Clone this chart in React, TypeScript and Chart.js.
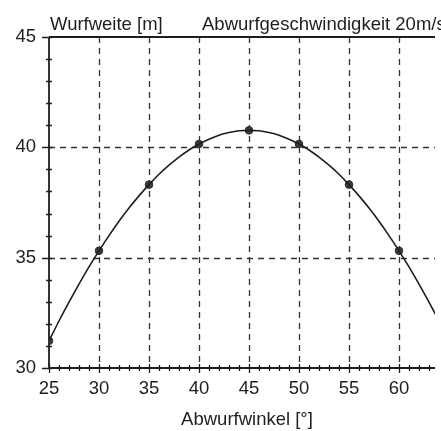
import React, { useEffect, useRef } from "react";
import { Chart, registerables } from "chart.js";

Chart.register(...registerables);

const curveAngles = [25, 26, 27, 28, 29, 30, 31, 32, 33, 34, 35, 36, 37, 38, 39, 40, 41, 42, 43, 44, 45, 46, 47, 48, 49, 50, 51, 52, 53, 54, 55, 56, 57, 58, 59, 60, 61, 62, 63, 64];
const curveRange = [31.23, 32.13, 32.98, 33.8, 34.58, 35.31, 36.0, 36.65, 37.25, 37.8, 38.31, 38.78, 39.19, 39.56, 39.88, 40.15, 40.37, 40.55, 40.67, 40.75, 40.77, 40.75, 40.67, 40.55, 40.37, 40.15, 39.88, 39.56, 39.19, 38.78, 38.31, 37.8, 37.25, 36.65, 36.0, 35.31, 34.58, 33.8, 32.98, 32.13];
const pointAngles = [25, 30, 35, 40, 45, 50, 55, 60];
const pointRange = [31.23, 35.31, 38.31, 40.15, 40.77, 40.15, 38.31, 35.31];
const xTicks = [25, 30, 35, 40, 45, 50, 55, 60];
const yTicks = [30, 35, 40, 45];
const yGridValues = [35, 40];
const xGridValues = [30, 35, 40, 45, 50, 55, 60];
const xMinorTicks = [26, 27, 28, 29, 31, 32, 33, 34, 36, 37, 38, 39, 41, 42, 43, 44, 46, 47, 48, 49, 51, 52, 53, 54, 56, 57, 58, 59, 61, 62, 63];
const yMinorTicks = [31, 32, 33, 34, 36, 37, 38, 39, 41, 42, 43, 44];
const leftTitle = "Wurfweite [m]";
const rightTitle = "Abwurfgeschwindigkeit 20m/s";
const xTitle = "Abwurfwinkel [°]";

const FONT = "'Liberation Sans', Arial, sans-serif";
const INK = "#1e1e1e";
const FS = 18.5;

const framePlugin = {
  id: "frame",
  beforeDatasetsDraw(chart: any) {
    const { ctx, chartArea } = chart;
    const xs = chart.scales.x;
    const ys = chart.scales.y;
    const { left, right, top, bottom } = chartArea;
    ctx.save();
    ctx.strokeStyle = "#333";
    ctx.lineWidth = 1.3;
    ctx.setLineDash([6, 5]);
    for (const v of xGridValues) {
      const px = Math.round(xs.getPixelForValue(v)) + 0.5;
      ctx.beginPath();
      ctx.moveTo(px, top);
      ctx.lineTo(px, bottom);
      ctx.stroke();
    }
    for (const v of yGridValues) {
      const py = Math.round(ys.getPixelForValue(v)) + 0.5;
      ctx.beginPath();
      ctx.moveTo(left, py);
      ctx.lineTo(right, py);
      ctx.stroke();
    }
    ctx.setLineDash([]);
    ctx.strokeStyle = INK;
    ctx.lineWidth = 1.8;
    ctx.beginPath();
    ctx.moveTo(left, top);
    ctx.lineTo(left, bottom);
    ctx.lineTo(right, bottom);
    ctx.moveTo(left, top);
    ctx.lineTo(right, top);
    ctx.stroke();
    ctx.lineWidth = 1.3;
    ctx.beginPath();
    for (const v of xMinorTicks) {
      const px = Math.round(xs.getPixelForValue(v)) + 0.5;
      ctx.moveTo(px, bottom - 3);
      ctx.lineTo(px, bottom + 3);
    }
    for (const v of xTicks) {
      const px = Math.round(xs.getPixelForValue(v)) + 0.5;
      ctx.moveTo(px, bottom - 4);
      ctx.lineTo(px, bottom + 5);
    }
    for (const v of yMinorTicks) {
      const py = Math.round(ys.getPixelForValue(v)) + 0.5;
      ctx.moveTo(left - 3, py);
      ctx.lineTo(left + 3, py);
    }
    for (const v of yTicks) {
      const py = Math.round(ys.getPixelForValue(v)) + 0.5;
      ctx.moveTo(left - 7, py);
      ctx.lineTo(left + 3, py);
    }
    ctx.stroke();
    ctx.restore();
  },
  afterDraw(chart: any) {
    const { ctx } = chart;
    ctx.save();
    ctx.fillStyle = INK;
    ctx.font = `${FS}px ${FONT}`;
    ctx.textBaseline = "alphabetic";
    ctx.textAlign = "left";
    ctx.fillText(leftTitle, 50, 30);
    ctx.fillText(rightTitle, 202, 30);
    ctx.textAlign = "center";
    ctx.textBaseline = "middle";
    ctx.fillText(xTitle, 247, 420);
    ctx.restore();
  },
};

export default function App() {
  const ref = useRef<HTMLCanvasElement>(null);
  useEffect(() => {
    if (!ref.current) return;
    const chart = new Chart(ref.current, {
      type: "line",
      data: {
        datasets: [
          {
            data: curveAngles.map((a, i) => ({ x: a, y: curveRange[i] })),
            borderColor: INK,
            borderWidth: 1.6,
            pointRadius: 0,
            tension: 0.3,
            fill: false,
          },
          {
            type: "scatter",
            data: pointAngles.map((a, i) => ({ x: a, y: pointRange[i] })),
            backgroundColor: "#3a3a3a",
            borderColor: "#2a2a2a",
            pointRadius: 3.8,
            borderWidth: 1,
          },
        ],
      } as any,
      options: {
        responsive: false,
        animation: false,
        layout: { padding: { top: 37, right: 6, left: 0, bottom: 0 } },
        plugins: { legend: { display: false }, tooltip: { enabled: false } },
        scales: {
          x: {
            type: "linear",
            min: 25,
            max: 63.6,
            afterBuildTicks: (s: any) => {
              s.ticks = xTicks.map((v) => ({ value: v }));
            },
            afterFit: (s: any) => {
              s.height = 63;
            },
            grid: { display: false, drawTicks: false },
            border: { display: false },
            ticks: {
              font: { family: FONT, size: FS },
              color: INK,
              padding: 10,
              maxRotation: 0,
              autoSkip: false,
            },
          },
          y: {
            type: "linear",
            min: 30,
            max: 45,
            afterBuildTicks: (s: any) => {
              s.ticks = yTicks.map((v) => ({ value: v }));
            },
            afterFit: (s: any) => {
              s.width = 49;
            },
            grid: { display: false, drawTicks: false },
            border: { display: false },
            ticks: {
              font: { family: FONT, size: FS },
              color: INK,
              padding: 13,
            },
          },
        },
      },
      plugins: [framePlugin],
    });
    return () => chart.destroy();
  }, []);
  return (
    <div style={{ position: "fixed", left: 0, top: 0, width: 441, height: 431, background: "#fff" }}>
      <canvas ref={ref} width={441} height={431} style={{ display: "block" }} />
    </div>
  );
}
